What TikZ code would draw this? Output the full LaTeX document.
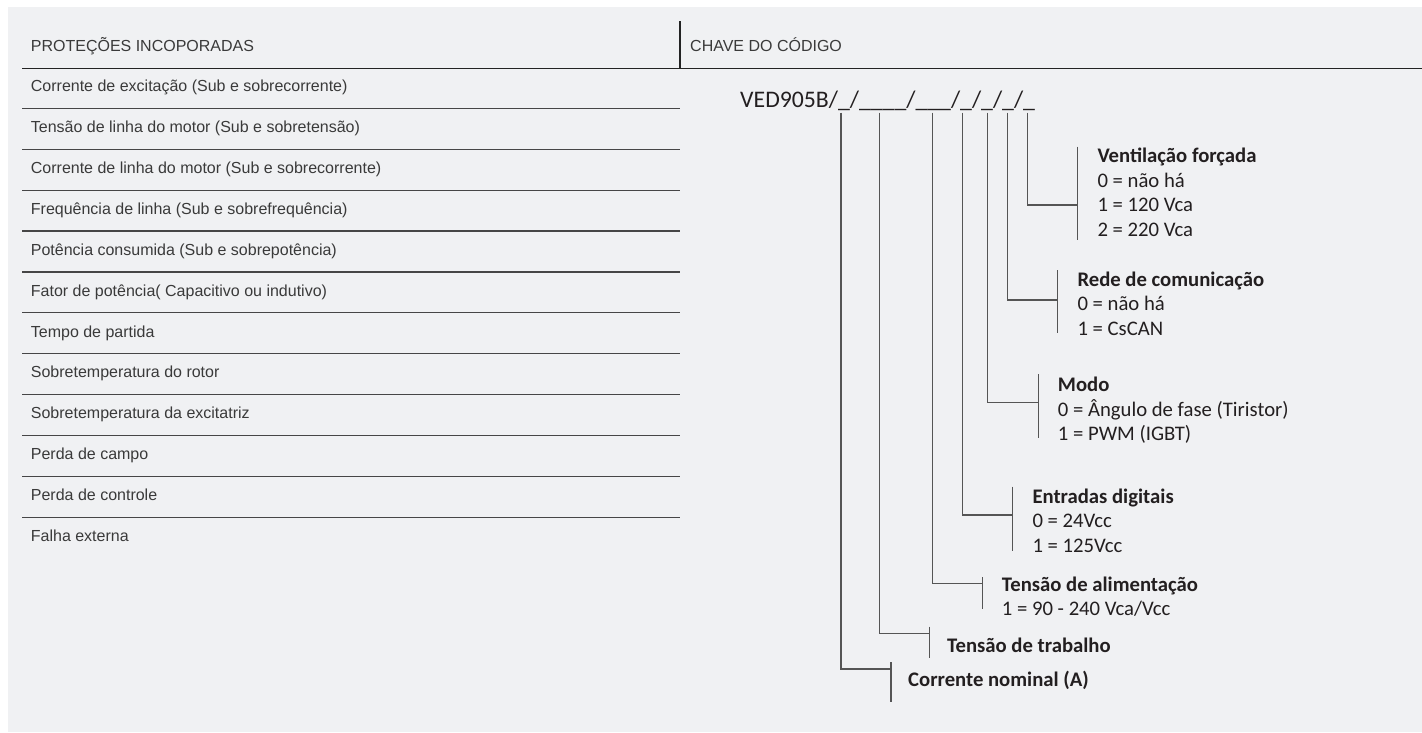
\documentclass[tikz,border=0pt]{standalone}
\usepackage{fontspec}
\setmainfont{Carlito}
\newfontfamily\lfont{Liberation Sans}
\definecolor{bg}{RGB}{240,241,243}
\definecolor{lefttext}{RGB}{58,58,58}
\definecolor{keytext}{RGB}{35,31,32}
\definecolor{rowcol}{RGB}{70,70,70}
\definecolor{headcol}{RGB}{35,35,35}
\definecolor{conncol}{RGB}{85,85,85}
\begin{document}
\begin{tikzpicture}[x=1pt,y=-1pt,
  lefttxt/.style={anchor=base west,inner sep=0pt,font=\lfont\fontsize{16}{19}\selectfont,text=lefttext},
  keytitle/.style={anchor=base west,inner sep=0pt,font=\fontsize{20.7}{24}\selectfont\bfseries,text=keytext},
  keyval/.style={anchor=base west,inner sep=0pt,font=\fontsize{20.7}{24}\selectfont,text=keytext},
  codetxt/.style={anchor=base west,inner sep=0pt,font=\fontsize{23.75}{28}\selectfont,text=keytext},
  rowline/.style={draw=rowcol,line width=1.2pt},
  headline/.style={draw=headcol,line width=1.4pt},
  conn/.style={draw=conncol,line width=1.1pt},
]
\useasboundingbox (0,0) rectangle (1422,732);
\fill[bg] (8,7) rectangle (1422,732);

% headers
\node[lefttxt] (hleft) at (30.7,51) {PROTEÇÕES INCOPORADAS};
\node[lefttxt] (hright) at (690,51.5) {CHAVE DO CÓDIGO};
\draw[headline] (22,68.3) -- (1422,68.3);
\draw[headline] (680,21) -- (680,68.3);

% left table rows
\foreach \t [count=\i from 0] in {
  Corrente de excitação (Sub e sobrecorrente),
  Tensão de linha do motor (Sub e sobretensão),
  Corrente de linha do motor (Sub e sobrecorrente),
  Frequência de linha (Sub e sobrefrequência),
  Potência consumida (Sub e sobrepotência),
  {Fator de potência( Capacitivo ou indutivo)},
  Tempo de partida,
  Sobretemperatura do rotor,
  Sobretemperatura da excitatriz,
  Perda de campo,
  Perda de controle,
  Falha externa}{
  \node[lefttxt] (r\i) at (30.7,{91.6+40.9*\i}) {\t};
}
\foreach \i in {0,...,10}{
  \draw[rowline] (22,{108.3+40.9*\i}) -- (680,{108.3+40.9*\i});
}

% code
\node[codetxt] (code) at (740,107.5) {VED905B/\_/\_\_\_\_/\_\_\_/\_/\_/\_/\_};

% start points under the code
\coordinate (s1) at (841,112.5);
\coordinate (s2) at (879.3,112.5);
\coordinate (s3) at (932.3,112.5);
\coordinate (s4) at (962.5,112.5);
\coordinate (s5) at (987.3,112.5);
\coordinate (s6) at (1007.3,112.5);
\coordinate (s7) at (1027.7,112.5);

% bar join points
\coordinate (j1) at (891,669);
\coordinate (j2) at (929.7,633.3);
\coordinate (j3) at (982.5,583.7);
\coordinate (j4) at (1012.7,515);
\coordinate (j5) at (1038.3,402.7);
\coordinate (j6) at (1057.7,300);
\coordinate (j7) at (1077.7,205);

% bar ends
\coordinate (t1) at (891,662);     \coordinate (e1) at (891,702);
\coordinate (t2) at (929.7,626.7); \coordinate (e2) at (929.7,658);
\coordinate (t3) at (982.5,577);   \coordinate (e3) at (982.5,609);
\coordinate (t4) at (1012.7,486.7);\coordinate (e4) at (1012.7,550.7);
\coordinate (t5) at (1038.3,374);  \coordinate (e5) at (1038.3,438);
\coordinate (t6) at (1057.7,270);  \coordinate (e6) at (1057.7,333.3);
\coordinate (t7) at (1077.7,146.7);\coordinate (e7) at (1077.7,240);

\foreach \k in {1,...,7}{
  \draw[conn] (s\k) |- (j\k);
  \draw[conn] (t\k) -- (e\k);
}

% labels
\node[keytitle] (ven) at (1097.3,162.5) {Ventilação forçada};
\node[keyval] (ven0) at (1097.3,187.3) {0 = não há};
\node[keyval] (ven1) at (1097.3,211.8) {1 = 120 Vca};
\node[keyval] (ven2) at (1097.3,236.6) {2 = 220 Vca};

\node[keytitle] (rede) at (1077.3,286.3) {Rede de comunicação};
\node[keyval] (rede0) at (1077.3,310.8) {0 = não há};
\node[keyval] (rede1) at (1077.3,335) {1 = CsCAN};

\node[keytitle] (modo) at (1057.7,391.7) {Modo};
\node[keyval] (modo0) at (1057.7,416) {0 = Ângulo de fase (Tiristor)};
\node[keyval] (modo1) at (1057.7,440.2) {1 = PWM (IGBT)};

\node[keytitle] (ent) at (1032.3,503.5) {Entradas digitais};
\node[keyval] (ent0) at (1032.3,527.8) {0 = 24Vcc};
\node[keyval] (ent1) at (1032.3,552.3) {1 = 125Vcc};

\node[keytitle] (alim) at (1001.7,591) {Tensão de alimentação};
\node[keyval] (alim1) at (1001.7,615) {1 = 90 - 240 Vca/Vcc};

\node[keytitle] (trab) at (947,652) {Tensão de trabalho};

\node[keytitle] (nom) at (908,686.7) {Corrente nominal (A)};
\end{tikzpicture}
\end{document}
